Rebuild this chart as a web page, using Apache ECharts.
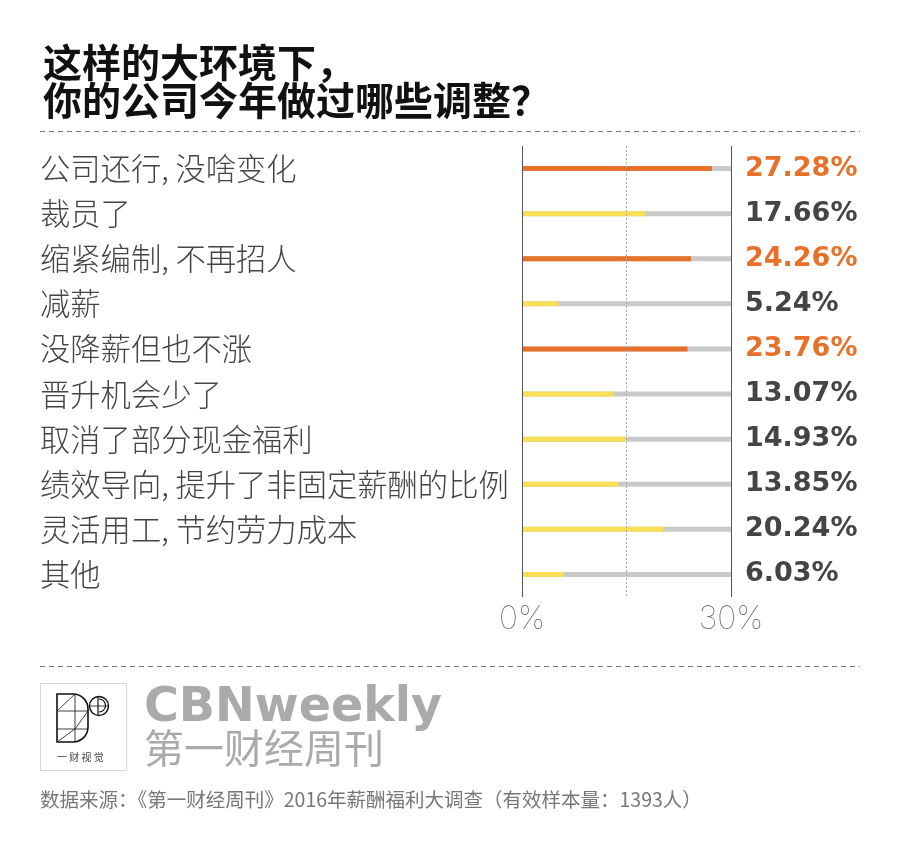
<!DOCTYPE html>
<html><head><meta charset="utf-8">
<script src="https://cdn.jsdelivr.net/npm/echarts@6/dist/echarts.min.js"></script>
<style>html,body{margin:0;padding:0;background:#fff}#c{width:900px;height:846px}</style>
</head><body><div id="c"></div>
<script>
const categories = ['公司还行, 没啥变化','裁员了','缩紧编制, 不再招人','减薪','没降薪但也不涨','晋升机会少了','取消了部分现金福利','绩效导向, 提升了非固定薪酬的比例','灵活用工, 节约劳力成本','其他'];
const values = [27.28, 17.66, 24.26, 5.24, 23.76, 13.07, 14.93, 13.85, 20.24, 6.03];
const axisMax = 30;
const xTicks = [0, 30];
const highlightFrom = 23;

const ORANGE = '#E8712A', YELLOW = '#F8DF55', GREY = '#c9c9c9';
const chart = echarts.init(document.getElementById('c'), null, {renderer:'canvas'});
const cjk = '"Noto Sans CJK SC", "Noto Sans", sans-serif';
const ln = (x1, y1, x2, y2, w) => ({type: 'line', shape: {x1, y1, x2, y2}, style: {stroke: '#111', lineWidth: w || 0.8}});
const arc = (cx, cy, r, a0, a1, w) => ({type: 'arc', shape: {cx, cy, r, startAngle: a0 * Math.PI / 180, endAngle: a1 * Math.PI / 180, clockwise: true}, style: {stroke: '#111', fill: 'none', lineWidth: w || 1.6}});

chart.setOption({
  backgroundColor: '#fff',
  animation: false,
  title: {
    text: '这样的大环境下，\n你的公司今年做过哪些调整？',
    left: 38, top: 38,
    textStyle: {fontSize: 39, fontWeight: 'bold', color: '#111', lineHeight: 38, fontFamily: cjk}
  },
  grid: {left: 522, right: 169, top: 146, bottom: 249, containLabel: false},
  xAxis: {
    type: 'value', min: 0, max: axisMax, interval: axisMax,
    axisLine: {show: false}, axisTick: {show: false}, splitLine: {show: false},
    axisLabel: {
      margin: 6, fontSize: 32, fontFamily: 'Inter, Lato, sans-serif', fontWeight: 100, color: '#555',
      formatter: v => xTicks.includes(v) ? v + '%' : ''
    }
  },
  yAxis: {
    type: 'category', inverse: true, data: categories,
    axisLine: {show: false}, axisTick: {show: false}, splitLine: {show: false},
    axisLabel: {align: 'left', margin: 482, fontSize: 30.3, color: '#444', fontWeight: 300, fontFamily: cjk}
  },
  series: [
    {
      type: 'bar', barWidth: 5, silent: true,
      data: values.map(() => axisMax),
      itemStyle: {color: GREY},
      label: {
        show: true, position: 'right', distance: 14,
        formatter: p => values[p.dataIndex] >= highlightFrom ? '{o|' + values[p.dataIndex].toFixed(2) + '%}' : '{g|' + values[p.dataIndex].toFixed(2) + '%}',
        rich: {
          o: {fontSize: 27, fontWeight: 'bold', color: ORANGE, fontFamily: '"DejaVu Sans", sans-serif'},
          g: {fontSize: 27, fontWeight: 'bold', color: '#444', fontFamily: '"DejaVu Sans", sans-serif'}
        }
      },
      markLine: {
        silent: true, symbol: 'none', label: {show: false}, animation: false,
        data: [
          {xAxis: 0, lineStyle: {type: 'solid', color: '#555', width: 1}},
          {xAxis: axisMax / 2, lineStyle: {type: [2, 2], color: '#aaa', width: 1}},
          {xAxis: axisMax, lineStyle: {type: 'solid', color: '#555', width: 1}}
        ]
      }
    },
    {
      type: 'bar', barWidth: 5, barGap: '-100%', silent: true,
      data: values.map(v => ({value: v, itemStyle: {color: v >= highlightFrom ? ORANGE : YELLOW}}))
    }
  ],
  graphic: [
    {type: 'line', shape: {x1: 40, y1: 131.5, x2: 860, y2: 131.5}, style: {stroke: '#777', lineWidth: 1, lineDash: [5, 4]}},
    {type: 'line', shape: {x1: 40, y1: 666.5, x2: 860, y2: 666.5}, style: {stroke: '#777', lineWidth: 1, lineDash: [5, 4]}},
    {type: 'rect', shape: {x: 40.5, y: 683.5, width: 86, height: 87}, style: {fill: '#fff', stroke: '#d6d6d6', lineWidth: 1}},
    {type: 'polyline', shape: {points: [[73, 694], [57, 694], [57, 742], [73, 742]]}, style: {stroke: '#111', fill: 'none', lineWidth: 1.6}},
    ln(88, 709, 88, 727, 1.6),
    arc(73, 709, 15, -90, 0),
    arc(73, 727, 15, 0, 90),
    ln(75, 694, 75, 742),
    ln(57, 711, 88, 711),
    ln(57, 729, 88, 729),
    ln(57, 711, 75, 694),
    ln(57, 742, 75, 729),
    ln(75, 729, 88, 711),
    {type: 'circle', shape: {cx: 99, cy: 706, r: 9.5}, style: {fill: 'none', stroke: '#111', lineWidth: 1.4}},
    ln(89.5, 706, 108.5, 706),
    ln(98, 697, 98, 715, 1.2),
    arc(99, 705.5, 6.5, -90, 90, 1.2),
    {type: 'text', x: 57, y: 752, style: {text: '一 财 视 觉', fontSize: 10, fill: '#444', fontFamily: cjk}},
    {type: 'text', x: 144, y: 685, style: {text: 'CBNweekly', fontSize: 47.5, fontWeight: 'bold', fill: '#aaa', fontFamily: '"DejaVu Sans", sans-serif'}},
    {type: 'text', x: 144, y: 728, style: {text: '第一财经周刊', fontSize: 40, fill: '#aaa', fontFamily: cjk}},
    {type: 'text', x: 40, y: 790, style: {text: '数据来源：《第一财经周刊》2016年薪酬福利大调查（有效样本量：1393人）', fontSize: 19.5, fill: '#777', fontFamily: cjk}}
  ]
});
</script></body></html>
